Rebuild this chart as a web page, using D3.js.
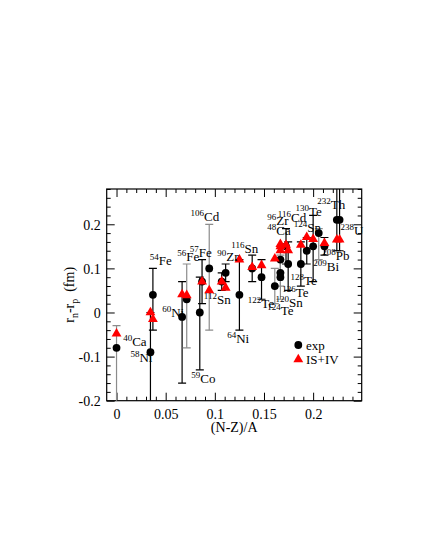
<!DOCTYPE html>
<html><head><meta charset="utf-8">
<script src="https://cdn.jsdelivr.net/npm/d3@7"></script>
<style>body{margin:0;background:#fff}svg{display:block}text{font-family:"Liberation Serif","Times New Roman",serif}</style>
</head><body><svg id="c" width="425" height="550"></svg>
<script>
// ---- data ----
const nuclides = ["40Ca","58Ni","54Fe","60Ni","56Fe","57Fe","59Co","106Cd","112Sn","90Zr","64Ni","116Sn","122Te","124Te","48Ca","96Zr","120Sn","116Cd","126Te","128Te","124Sn","130Te","209Bi","208Pb","232Th","238U"];
const xVals    = [0,0.0345,0.037,0.0667,0.0714,0.087,0.0847,0.0943,0.107,0.111,0.125,0.138,0.1475,0.161,0.1667,0.1667,0.1667,0.1724,0.1746,0.1875,0.1935,0.2,0.2057,0.2115,0.2241,0.2269];
const expVals  = [-0.08,-0.09,0.04,-0.01,0.03,0.07,0.0,0.10,0.07,0.09,0.04,0.10,0.08,0.06,0.12,0.09,0.08,0.15,0.11,0.11,0.14,0.15,0.18,0.15,0.21,0.21];
const errLow   = [-0.25,-0.25,-0.04,-0.16,-0.08,0.02,-0.13,-0.04,0.05,0.07,-0.04,0.07,0.03,0.02,0.09,0.06,0.03,0.11,0.05,0.06,0.11,0.07,0.12,0.13,0.14,0.14];
const errHigh  = [-0.03,0.0,0.10,0.07,0.11,0.12,0.08,0.20,0.09,0.11,0.12,0.13,0.12,0.10,0.15,0.12,0.13,0.19,0.16,0.16,0.17,0.22,0.19,0.17,0.32,0.32];
const errGray  = [1,0,0,0,1,0,0,1,0,0,0,0,0,1,1,1,1,0,0,0,0,0,1,0,0,0];
const theoryVals = [-0.048,0.0,-0.015,0.041,0.039,0.07,null,0.05,0.07,0.056,0.12,0.103,0.107,0.122,0.155,0.141,0.15,0.153,0.141,0.153,0.171,0.166,null,0.157,0.165,0.165];
// label anchors (data units) for each nuclide annotation
const labelNames = ["40Ca","58Ni","54Fe","60Ni","56Fe","57Fe","106Cd","59Co","112Sn","90Zr","64Ni","116Sn","122Te","124Te","120Sn","48Ca","96Zr","116Cd","126Te","128Te","124Sn","130Te","209Bi","208Pb","232Th","238U"];
const labelX = [0.0068,0.0142,0.0339,0.0465,0.0617,0.0746,0.0753,0.076,0.0888,0.1024,0.1126,0.1167,0.1336,0.1533,0.1617,0.1533,0.1533,0.1641,0.1686,0.1770,0.1804,0.1821,0.2001,0.2093,0.2042,0.2279];
const labelY = [-0.076,-0.112,0.107,-0.010,0.117,0.126,0.208,-0.160,0.020,0.117,-0.069,0.134,0.011,-0.006,0.013,0.175,0.198,0.205,0.035,0.062,0.182,0.218,0.094,0.120,0.234,0.176];
const xTicks = [0,0.05,0.1,0.15,0.2];
const yTicks = [-0.2,-0.1,0,0.1,0.2];
const legendItems = ["exp","IS+IV"];

// ---- layout ----
const SERIF = "'Liberation Serif','Times New Roman',serif";
const svg = d3.select("#c");
const L=106.7, R=361.7, T=189, B=400.7;
const x = d3.scaleLinear().domain([-0.01,0.2494]).range([L,R]);
const y = d3.scaleLinear().domain([-0.2,0.28]).range([B,T]);

svg.append("defs").append("clipPath").attr("id","clip").append("rect")
  .attr("x",L).attr("y",T).attr("width",R-L).attr("height",B-T);

// axes with inward ticks on all 4 sides
const xMinor = d3.range(0,0.25,0.01).filter(v=>!xTicks.some(t=>Math.abs(t-v)<1e-9));
const yMinor = d3.range(-0.2,0.281,0.02).filter(v=>!yTicks.some(t=>Math.abs(t-v)<1e-9));
const fmt = d => d===0 ? "0" : String(+d.toFixed(2));
function axis(gen, scale, ticks, minor, tr, showLabels){
  const g = svg.append("g").attr("transform",tr);
  g.call(gen(scale).tickValues(ticks).tickSizeInner(-8).tickSizeOuter(0).tickFormat(showLabels?fmt:""));
  const gm = svg.append("g").attr("transform",tr);
  gm.call(gen(scale).tickValues(minor).tickSizeInner(-4).tickSizeOuter(0).tickFormat(""));
  [g,gm].forEach(a=>{a.attr("font-family",SERIF);a.select(".domain").remove();a.selectAll("line").attr("stroke","#000").attr("stroke-width",1);});
  g.selectAll("text").attr("font-size",14).attr("fill","#000").attr("font-family",SERIF);
  return g;
}
const gb = axis(d3.axisBottom, x, xTicks, xMinor, `translate(0,${B})`, true);
gb.selectAll("text").attr("dy","1.1em");
axis(d3.axisTop, x, xTicks, xMinor, `translate(0,${T})`, false);
const gl = axis(d3.axisLeft, y, yTicks, yMinor, `translate(${L},0)`, true);
gl.selectAll("text").attr("x",-6).attr("dy","0.35em");
axis(d3.axisRight, y, yTicks, yMinor, `translate(${R},0)`, false);
svg.append("rect").attr("x",L).attr("y",T).attr("width",R-L).attr("height",B-T)
  .attr("fill","none").attr("stroke","#000").attr("stroke-width",1.2);

// axis titles
svg.append("text").attr("x",(L+R)/2).attr("y",432).attr("text-anchor","middle").attr("font-size",14).text("(N-Z)/A");
const yl = svg.append("text").attr("transform",`translate(74,${(T+B)/2}) rotate(-90)`).attr("text-anchor","middle").attr("font-size",14);
yl.append("tspan").text("r");
yl.append("tspan").attr("font-size",10).attr("dy",4).text("n");
yl.append("tspan").attr("dy",-4).text("-r");
yl.append("tspan").attr("font-size",10).attr("dy",4).text("p");
yl.append("tspan").attr("dy",-4).text("\u00a0\u00a0(fm)");

// data layer
const pts = nuclides.map((n,i)=>({n, x:xVals[i], e:expVals[i], lo:errLow[i], hi:errHigh[i], gray:errGray[i], t:theoryVals[i]}));
const plot = svg.append("g").attr("clip-path","url(#clip)");
const cap = 4;
pts.forEach(p=>{
  const col = p.gray ? "#8c8c8c" : "#000";
  const g = plot.append("g").attr("stroke",col).attr("stroke-width",1.2);
  g.append("line").attr("x1",x(p.x)).attr("x2",x(p.x)).attr("y1",y(p.lo)).attr("y2",y(p.hi));
  g.append("line").attr("x1",x(p.x)-cap).attr("x2",x(p.x)+cap).attr("y1",y(p.lo)).attr("y2",y(p.lo));
  g.append("line").attr("x1",x(p.x)-cap).attr("x2",x(p.x)+cap).attr("y1",y(p.hi)).attr("y2",y(p.hi));
});
plot.selectAll("circle.exp").data(pts).join("circle").attr("class","exp")
  .attr("cx",d=>x(d.x)).attr("cy",d=>y(d.e)).attr("r",3.9).attr("fill","#000");
const tri = d3.symbol().type(d3.symbolTriangle).size(42);
plot.selectAll("path.th").data(pts.filter(d=>d.t!==null)).join("path").attr("class","th")
  .attr("transform",d=>`translate(${x(d.x)},${y(d.t)})`).attr("d",tri).attr("fill","#ff0000");

// nuclide labels
labelNames.forEach((n,i)=>{
  const m = n.match(/^(\d+)(\D+)$/);
  const t = svg.append("text").attr("x",x(labelX[i])).attr("y",y(labelY[i])).attr("font-size",13);
  t.append("tspan").attr("font-size",9).attr("dy",-5).text(m[1]);
  t.append("tspan").attr("dy",5).text(m[2]);
});

// legend
const lgx = 298.3, lgy = [345, 359.5];
svg.append("circle").attr("cx",lgx).attr("cy",lgy[0]).attr("r",3.9).attr("fill","#000");
svg.append("path").attr("transform",`translate(${lgx},${lgy[1]})`).attr("d",tri).attr("fill","#ff0000");
legendItems.forEach((s,i)=>svg.append("text").attr("x",306).attr("y",lgy[i]+4.5).attr("font-size",13).text(s));
</script></body></html>
